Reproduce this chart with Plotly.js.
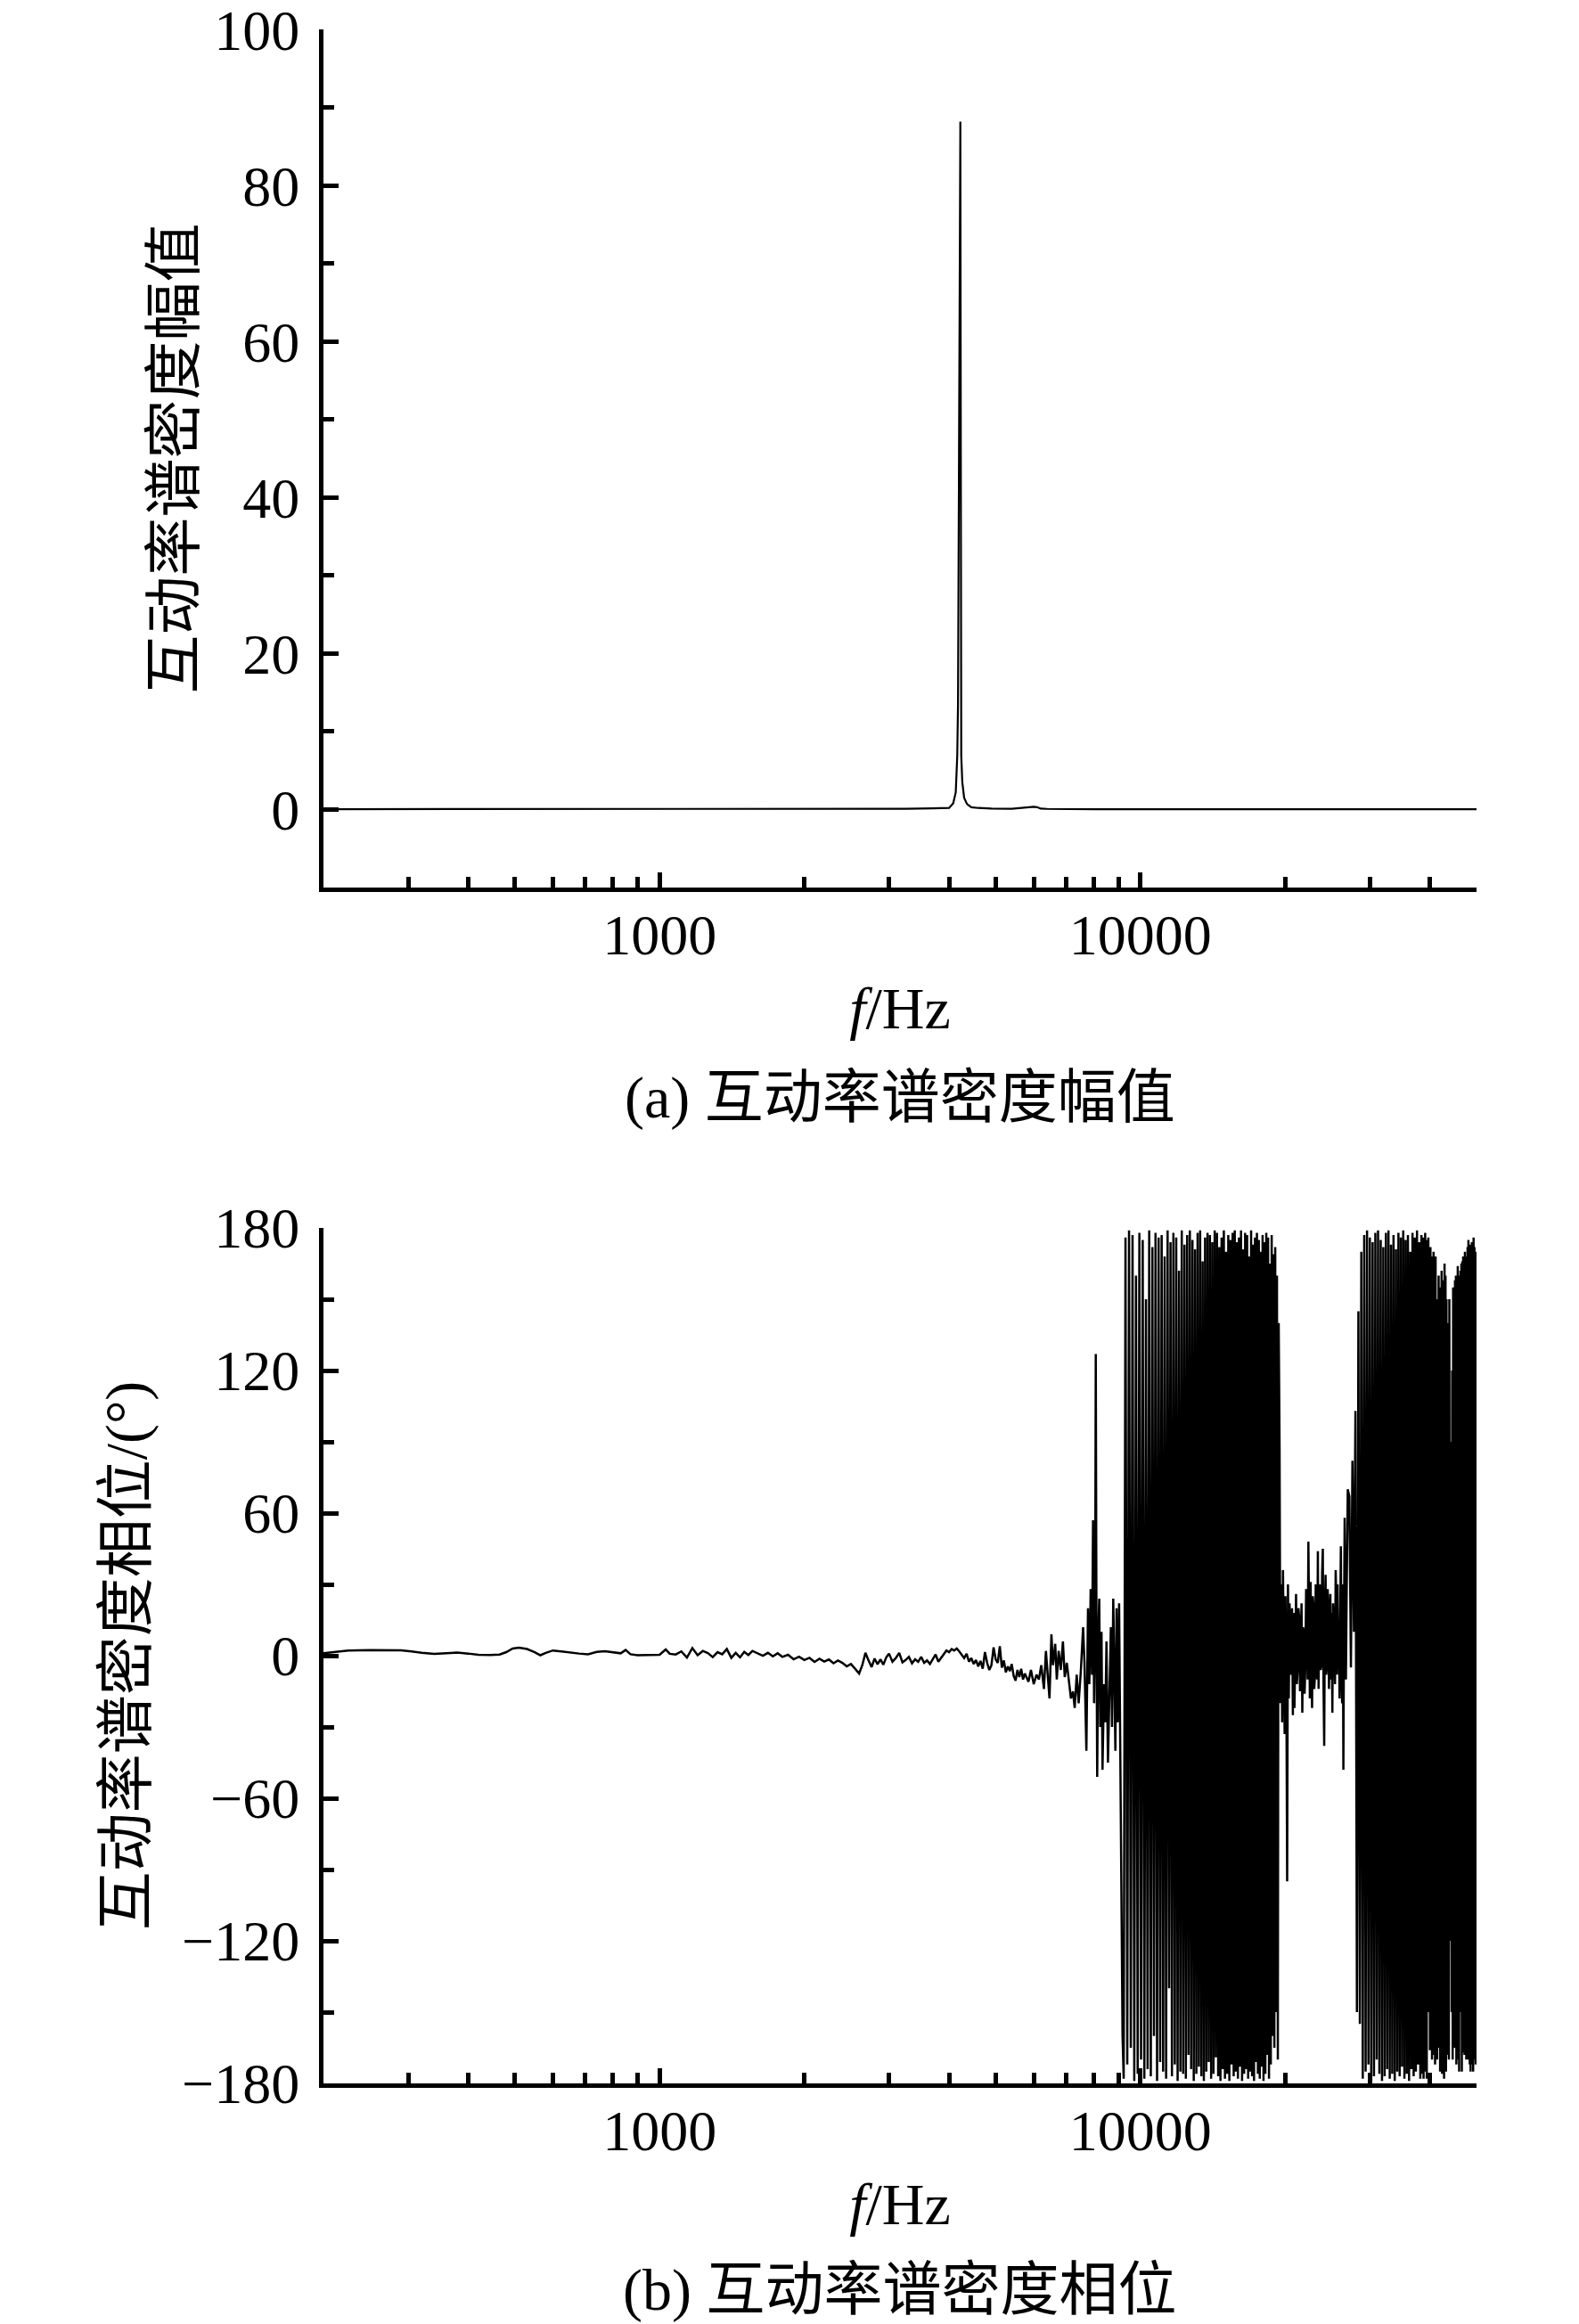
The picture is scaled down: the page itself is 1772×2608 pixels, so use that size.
<!DOCTYPE html>
<html>
<head>
<meta charset="utf-8">
<script src="https://cdn.plot.ly/plotly-3.0.1.min.js"></script>
<style>
  html, body { margin: 0; padding: 0; background: #fff; }
  #chart { width: 1772px; height: 2608px; }
</style>
</head>
<body>
<div id="chart"></div>
<script>
// ---------------- DATA ----------------
// (a) cross power spectral density magnitude
const ampFreq = [200, 400, 800, 1500, 2500, 3200, 3700, 4000, 4080, 4130, 4160, 4175, 4222, 4240, 4262, 4300, 4360, 4450, 4600, 4900, 5400, 5900, 6000, 6100, 6200, 6400, 7000, 8000, 12000, 20000, 35000, 50000];
const ampVal  = [0.05, 0.05, 0.05, 0.06, 0.08, 0.1, 0.15, 0.2, 0.8, 2.2, 6.9, 13.5, 88.2, 6.9, 3.5, 1.5, 0.7, 0.3, 0.2, 0.12, 0.1, 0.3, 0.35, 0.3, 0.12, 0.08, 0.06, 0.05, 0.05, 0.05, 0.04, 0.04];

// (b) cross power spectral density phase, by frequency segment
const phaseLowFreq = [
  200, 210, 225, 250, 270, 290, 305, 320, 340, 360,
  380, 400, 420, 445, 465, 480, 495, 510, 530, 550,
  565, 580, 600, 625, 650, 680, 710, 740, 770, 800,
  830, 850, 870, 900, 940, 970, 1000, 1030, 1050, 1080,
  1110, 1140, 1170, 1200, 1230, 1260, 1290, 1320, 1350, 1380,
  1410, 1440, 1470, 1500, 1530, 1560, 1600, 1640, 1680, 1720,
  1760, 1800, 1850, 1900, 1950, 2000, 2050, 2100, 2150, 2200,
  2250, 2300, 2350, 2400, 2450, 2500, 2550, 2600, 2640, 2680,
  2720, 2760, 2800, 2840, 2880, 2920, 2960, 3000, 3050, 3100,
  3150, 3200, 3250, 3300, 3350, 3400, 3450, 3500, 3550, 3600,
  3650, 3700, 3750, 3800, 3850, 3900, 3950, 4000, 4050, 4100,
  4150, 4200, 4250, 4300, 4350, 4400, 4450, 4500, 4550, 4600,
  4650, 4700, 4750, 4800, 4850, 4900, 4950, 5000, 5050, 5100,
  5150, 5200, 5250, 5300, 5350, 5400, 5450, 5500, 5550, 5600,
  5650, 5700, 5750, 5800, 5850, 5920, 6000, 6080, 6150, 6220,
  6300, 6360, 6420, 6470, 6530, 6580, 6650, 6700, 6760, 6830,
  6900, 6960, 7030, 7100, 7170, 7240, 7300, 7370, 7440, 7520,
  7600, 7650, 7720, 7780, 7830, 7880, 7930, 7970, 8010, 8050,
  8075, 8100, 8130, 8170, 8210, 8250, 8300, 8340, 8400, 8450,
  8500, 8560, 8620, 8680, 8730, 8780, 8830, 8870, 8920, 8970,
  9030, 9080, 9130, 9180
];
const phaseLowVal = [
  1.0, 1.5, 2.2, 2.4, 2.4, 2.3, 1.8, 1.2, 0.8, 1.0,
  1.3, 0.9, 0.4, 0.3, 0.5, 1.5, 3.0, 3.4, 2.8, 1.5,
  0.2, 1.2, 2.2, 1.8, 1.3, 0.9, 0.6, 1.6, 1.9, 1.5,
  1.0, 2.4, 0.6, 0.2, 0.3, 0.5, 0.4, 2.6, 0.8, 0.5,
  1.8, -0.8, 3.2, 0.2, 2.0, 1.1, -0.6, 1.5, 0.6, 2.8,
  -0.9, 1.2, -0.7, 1.6, 0.3, 2.0, 1.0, 0.0, 1.2, -0.3,
  1.0, -0.5, 0.4, -1.5, -0.4, -1.8, -0.9, -2.6, -1.3, -2.5,
  -1.6, -3.2, -2.0, -3.0, -4.5, -3.5, -5.5, -7.5, -4.0, 1.2,
  -2.0, -4.8, -1.2, -3.6, -1.5, -3.8, -0.8, 0.9, -2.5, -1.0,
  1.2, -2.8, -1.8, -0.5, -3.2, -1.5, -2.6, -0.5, -3.0, -2.0,
  -3.5, -1.2, 0.5, -2.5, -0.8, 0.8, 2.2, 1.5, 2.8, 2.2,
  3.0, 1.8, 0.5, -1.0, 0.8, -2.5, -1.0, -3.5, -1.8, -4.5,
  -2.2, -5.5, 1.5, -3.0, -6.0, -4.0, 3.5, -1.5, -3.0, 4.0,
  -5.0, -2.0, -7.0, -4.5, -6.5, -3.5, -8.5, -10.5, -6.0, -9.0,
  -5.5, -10.0, -7.5, -9.0, -11, -6, -12, -8, -10, -4,
  -14, 2, -9, -18, 9, -4, 5, -10, 2, -6,
  6, -9, -3, -12, -18, -15, -22, -8, -20, -6,
  12, -3, -40, 20, -12, 28, -8, 57, -20, 15,
  127, 20, -51, 8, 24, -30, 10, -48, -12, -28,
  6, -45, -14, 12, -30, 24, -10, -40, 20, -28,
  22, -30, -100, -160
];

const phaseBand1Freq = [
  9230, 9310, 9390, 9470, 9550, 9630, 9710, 9790, 9870, 9950, 10030, 10110, 10190, 10270, 10350, 10430,
  10510, 10590, 10670, 10750, 10830, 10910, 10990, 11070, 11150, 11230, 11310, 11390, 11470, 11550, 11630, 11710,
  11790, 11870, 11950, 12030, 12110, 12190, 12270, 12350, 12430, 12510, 12590, 12670, 12750, 12830, 12910, 12990,
  13070, 13150, 13230, 13310, 13390, 13470, 13550, 13630, 13710, 13790, 13870, 13950, 14030, 14110, 14190, 14270,
  14350, 14430, 14510, 14590, 14670, 14750, 14830, 14910, 14990, 15070, 15150, 15230, 15310, 15390, 15470, 15550,
  15630, 15710, 15790, 15870, 15950, 16030, 16110, 16190, 16270, 16350, 16430, 16510, 16590, 16670, 16750, 16830,
  16910, 16990, 17070, 17150, 17230, 17310, 17390, 17470, 17550, 17630, 17710, 17790, 17870, 17950, 18030, 18110,
  18190, 18270, 18350, 18430, 18510, 18590, 18670, 18750, 18830, 18910, 18990, 19070, 19150, 19230, 19310, 19390
];
const phaseBand1Val = [
  -178, 176, -172, 179, -165, 177, -179, 160, -176, 178, -170, 175, -178, 150, -174, 179,
  -177, 172, -160, 178, -179, 176, -171, 177, -175, 168, -178, 179, -140, 174, -177, 178,
  -172, 176, -179, 162, -175, 179, -176, 173, -178, 177, -168, 179, -174, 175, -179, 171,
  -176, 178, -173, 179, -177, 166, -179, 176, -175, 178, -171, 177, -178, 174, -176, 179,
  -169, 178, -177, 172, -179, 176, -174, 179, -178, 170, -176, 177, -179, 175, -172, 178,
  -177, 179, -175, 174, -178, 176, -173, 179, -179, 171, -176, 178, -174, 177, -178, 168,
  -175, 179, -177, 173, -179, 176, -171, 178, -176, 175, -178, 170, -173, 177, -179, 174,
  -176, 178, -168, 176, -178, 165, -172, 177, -160, 169, -165, 172, -150, 160, -170, 140
];

const phaseMidFreq = [
  19470, 19550, 19630, 19710, 19790, 19870, 19950, 20030, 20110, 20190,
  20270, 20350, 20430, 20510, 20590, 20670, 20750, 20830, 20910, 20990,
  21070, 21150, 21230, 21310, 21390, 21470, 21550, 21630, 21710, 21790,
  21870, 21950, 22030, 22110, 22190, 22270, 22350, 22430, 22510, 22590,
  22670, 22750, 22830, 22910, 22990, 23070, 23150, 23230, 23310, 23390,
  23470, 23550, 23630, 23710, 23790, 23870, 23950, 24030, 24110, 24190,
  24270, 24350, 24430, 24510, 24590, 24670, 24750, 24830, 24910, 24990,
  25070, 25150, 25230, 25310, 25390, 25470, 25550, 25630, 25710, 25790,
  25870, 25950, 26030, 26110, 26190, 26270, 26350, 26430, 26510, 26590,
  26670, 26750, 26830, 26910, 26990
];
const phaseMidVal = [
  88, -20, 30, -28, 36, -15, -33, 25, -10, -95,
  30, -18, 22, -8, 15, 20, -25, 18, -22, 5,
  26, -12, -6, 20, 16, -15, 4, 22, -24, 12,
  10, -16, -4, 28, 18, -10, 48, 8, -18, 31,
  2, -22, 25, 21, -14, -8, 30, 12, -10, 44,
  -14, 22, 30, -6, -4, 35, 45, -12, -38, 20,
  34, -8, -4, 28, 20, -14, 10, 26, -10, 18,
  -24, 22, 15, 6, -12, 36, 24, -8, 30, 2,
  10, -18, 26, 46, -6, -20, 30, -48, 14, 58,
  28, -10, 20, 40, 70
];

const phaseBand2Freq = [
  27200, 27400, 27600, 27800, 28000, 28200, 28400, 28600, 28800,
  29000, 29200, 29400, 29600, 29800, 30000, 30200, 30400, 30600, 30800, 31000, 31200, 31400, 31600, 31800, 32000,
  32200, 32400, 32600, 32800, 33000, 33200, 33400, 33600, 33800, 34000, 34200, 34400, 34600, 34800, 35000, 35200,
  35400, 35600, 35800, 36000, 36200, 36400, 36600, 36800, 37000, 37200, 37400, 37600, 37800, 38000, 38200, 38400,
  38600, 38700, 38800, 38900,
  39000, 39100, 39200, 39300, 39400, 39500, 39600, 39700, 39800, 39900,
  40000, 40100, 40200, 40300, 40400, 40500, 40600, 40700, 40800, 40900,
  41000, 41100, 41200, 41300, 41400, 41500, 41600, 41700, 41800, 41900,
  42000, 42100, 42200, 42300, 42400, 42500, 42600, 42700, 42800, 42900,
  43000, 43100, 43200, 43300, 43400, 43500, 43600, 43700, 43800, 43900,
  44000, 44100, 44200, 44300, 44400, 44500, 44600, 44700, 44800, 44900,
  45000, 45100, 45200, 45300, 45400, 45500, 45600, 45700, 45800, 45900,
  46000, 46100, 46200, 46300, 46400, 46500, 46600, 46700, 46800, 46900,
  47000, 47100, 47200, 47300, 47400, 47500, 47600, 47700, 47800, 47900,
  48000, 48100, 48200, 48300, 48400, 48500, 48600, 48700, 48800, 48900,
  49000, 49100, 49200, 49300, 49400, 49500, 49600, 49700, 49800, 49900, 50000
];
const phaseBand2Val = [
  67, -5, 82, 10, 103, -150, 145, -155, 170,
  -178, 177, -175, 179, -172, 176, -179, 174, -177, 178, -170, 179, -176, 175, -179, 172,
  -177, 178, -174, 179, -178, 173, -176, 177, -179, 171, -175, 178, -177, 176, -173, 179,
  -178, 175, -176, 177, -179, 170, -174, 178, -177, 176, -175, 179, -172, 174, -178, 177,
  -176, 176, -178, 172,
  -175, 178, -170, 175, -178, 174, -150, 176, -40, 170,
  -166, 172, -150, 168, -170, 165, -160, 170, -168, 166,
  -172, 168, -90, 150, -170, 140, -165, 160, -100, 155,
  -175, 150, -80, 162, -176, 158, -170, 135, -178, 165,
  -172, 160, -175, 150, -168, 140, -160, 110, -170, 150,
  -120, 90, -64, 60, -150, 120, -170, 155, -140, 150,
  -165, 158, -120, 160, -172, 150, -130, 164, -170, 160,
  -175, 158, -150, 162, -120, 165, -175, 166, -167, 168,
  -160, 165, -168, 170, -165, 168, -170, 166, -168, 172,
  -170, 175, -168, 170, -172, 173, -175, 168, -170, 174,
  -172, 170, -175, 176, -168, 172, -170, 168, -172, 170, -170
];

const xTickVals = [1000, 10000];
const xTickText = ['1000', '10000'];
const xMinorVals = [300, 400, 500, 600, 700, 800, 900, 2000, 3000, 4000, 5000, 6000, 7000, 8000, 9000, 20000, 30000, 40000, 50000];
const yTopTicks = [0, 20, 40, 60, 80, 100];
const yTopMinor = [10, 30, 50, 70, 90];
const yBotTicks = [-180, -120, -60, 0, 60, 120, 180];
const yBotMinor = [-150, -90, -30, 30, 90, 150];

// ---------------- BUILD ----------------
const phaseFreq = phaseLowFreq.concat(phaseBand1Freq, phaseMidFreq, phaseBand2Freq);
const phaseVal = phaseLowVal.concat(phaseBand1Val, phaseMidVal, phaseBand2Val);

const W = 1772, H = 2608;
const LATIN = 'Liberation Serif, Times New Roman, serif';
const MIXED = 'Liberation Serif, Noto Sans CJK SC, serif';
const TICK_SIZE = 64, TITLE_SIZE = 66;

const traces = [
  { x: ampFreq, y: ampVal, type: 'scatter', mode: 'lines', xaxis: 'x', yaxis: 'y',
    line: { color: '#000', width: 2.2 } },
  { x: phaseFreq, y: phaseVal, type: 'scatter', mode: 'lines', xaxis: 'x2', yaxis: 'y2',
    line: { color: '#000', width: 2.5 } }
];

function xAxis(anchor) {
  return {
    anchor: anchor, domain: [363 / W, 1657 / W], type: 'log',
    range: [Math.log10(200), Math.log10(50000)],
    tickmode: 'array', tickvals: xTickVals, ticktext: xTickText,
    ticks: 'inside', ticklen: 17, tickwidth: 5, tickcolor: '#000',
    showline: true, linewidth: 5, linecolor: '#000',
    showgrid: false, zeroline: false,
    ticklabelstandoff: -7, ticklabeloverflow: 'allow',
    tickfont: { family: LATIN, size: TICK_SIZE, color: '#000' },
    minor: { tickmode: 'array', tickvals: xMinorVals, ticks: 'inside', ticklen: 12, tickwidth: 5, tickcolor: '#000', showgrid: false },
    title: { text: '<i>f</i>/Hz', font: { family: LATIN, size: TITLE_SIZE, color: '#000' }, standoff: 26 }
  };
}
function yAxis(anchor, domain, range, ticks, minor, title, standoff) {
  return {
    anchor: anchor, domain: domain, range: range,
    tickmode: 'array', tickvals: ticks,
    ticks: 'inside', ticklen: 17, tickwidth: 5, tickcolor: '#000',
    showline: true, linewidth: 5, linecolor: '#000',
    showgrid: false, zeroline: false,
    ticklabelstandoff: 9, ticklabeloverflow: 'allow',
    tickfont: { family: LATIN, size: TICK_SIZE, color: '#000' },
    minor: { tickmode: 'array', tickvals: minor, ticks: 'inside', ticklen: 12, tickwidth: 5, tickcolor: '#000', showgrid: false },
    title: { text: title, font: { family: MIXED, size: TITLE_SIZE, color: '#000' }, standoff: standoff }
  };
}

const layout = {
  width: W, height: H,
  margin: { l: 0, r: 0, t: 0, b: 0 },
  paper_bgcolor: '#fff', plot_bgcolor: '#fff',
  showlegend: false,
  font: { family: MIXED, size: TITLE_SIZE, color: '#000' },
  xaxis: xAxis('y'),
  yaxis: yAxis('x', [1 - 996 / H, 1 - 33 / H], [-10, 100.02], yTopTicks, yTopMinor, '互动率谱密度幅值', 2),
  xaxis2: xAxis('y2'),
  yaxis2: yAxis('x2', [1 - 2338 / H, 1 - 1378 / H], [-180, 180.02], yBotTicks, yBotMinor, '互动率谱密度相位/(°)', 20),
  annotations: [
    { text: '(a) 互动率谱密度幅值', xref: 'paper', yref: 'paper', x: 1010 / W, y: 1 - 1232 / H,
      xanchor: 'center', yanchor: 'middle', showarrow: false, font: { family: MIXED, size: TITLE_SIZE, color: '#000' } },
    { text: '(b) 互动率谱密度相位', xref: 'paper', yref: 'paper', x: 1010 / W, y: 1 - 2570 / H,
      xanchor: 'center', yanchor: 'middle', showarrow: false, font: { family: MIXED, size: TITLE_SIZE, color: '#000' } }
  ]
};

Plotly.newPlot('chart', traces, layout, { staticPlot: true, displayModeBar: false });
</script>
</body>
</html>
